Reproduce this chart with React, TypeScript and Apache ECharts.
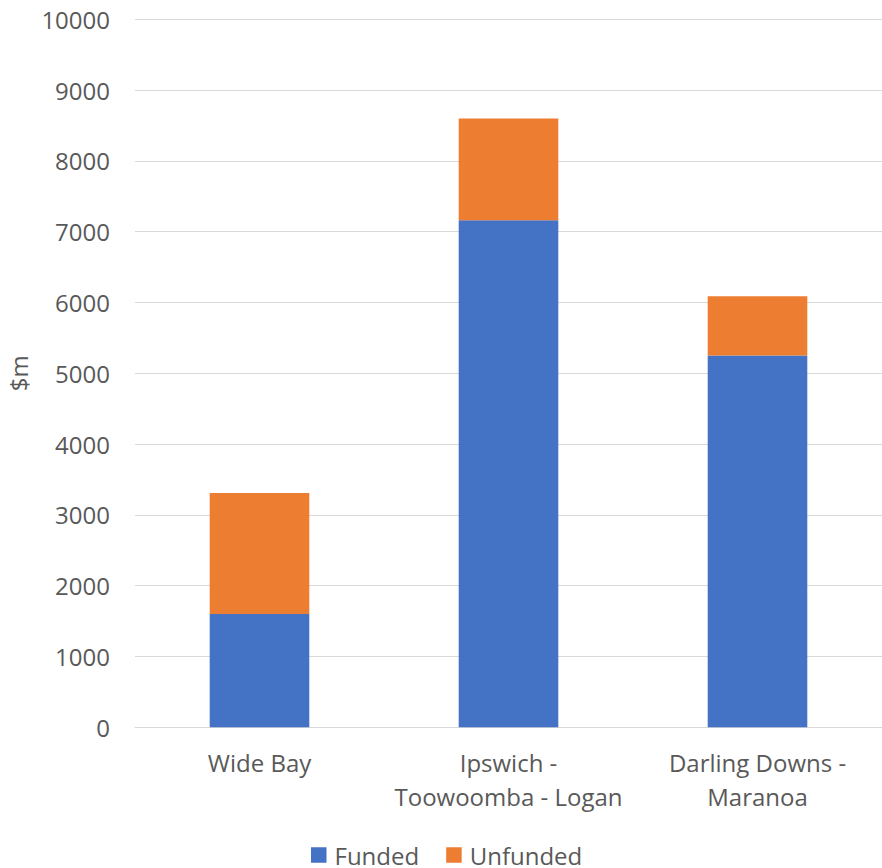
import React, { useEffect, useRef } from "react";
import * as echarts from "echarts";

const categories = ["Wide Bay", "Ipswich -\nToowoomba - Logan", "Darling Downs -\nMaranoa"];
const funded = [1600, 7160, 5250];
const unfunded = [1710, 1440, 840];
const seriesNames = ["Funded", "Unfunded"];

const FONT = "'Open Sans', sans-serif";
const TEXT = "#595959";

export default function App() {
  const ref = useRef<HTMLDivElement>(null);
  useEffect(() => {
    const chart = echarts.init(ref.current!, null, { renderer: "svg" });
    chart.setOption({
      animation: false,
      textStyle: { fontFamily: FONT, color: TEXT },
      grid: {
        left: 135,
        right: 0,
        top: 19.3,
        bottom: 140.7,
        containLabel: false,
        outerBoundsMode: "none",
      },
      legend: {
        left: 311,
        top: 842,
        padding: 0,
        itemWidth: 15.5,
        itemHeight: 15.5,
        itemGap: 27,
        icon: "rect",
        textStyle: { fontFamily: FONT, fontSize: 24, lineHeight: 26, color: TEXT, padding: [0, 0, 0, 3] },
        data: seriesNames,
      },
      xAxis: {
        type: "category",
        data: categories,
        axisLine: { lineStyle: { color: "#d9d9d9", width: 1 } },
        axisTick: { show: false },
        axisLabel: { fontFamily: FONT, fontSize: 24, color: TEXT, lineHeight: 33.3, margin: 19, interval: 0 },
      },
      yAxis: {
        type: "value",
        min: 0,
        max: 10000,
        interval: 1000,
        name: "$m",
        nameLocation: "middle",
        nameRotate: 90,
        nameGap: 104,
        nameTextStyle: { fontFamily: FONT, fontSize: 24, color: TEXT },
        axisLine: { show: false },
        axisTick: { show: false },
        axisLabel: {
          fontFamily: FONT,
          fontSize: 24,
          color: TEXT,
          margin: 25,
          formatter: (v: number) => String(v),
        },
        splitLine: { lineStyle: { color: "#d9d9d9", width: 1 } },
      },
      series: [
        {
          name: seriesNames[0],
          type: "bar",
          stack: "total",
          data: funded,
          barCategoryGap: "60%",
          itemStyle: { color: "#4472C4" },
        },
        {
          name: seriesNames[1],
          type: "bar",
          stack: "total",
          data: unfunded,
          barCategoryGap: "60%",
          itemStyle: { color: "#ED7D31" },
        },
      ],
    });
    return () => chart.dispose();
  }, []);
  return <div ref={ref} style={{ position: "absolute", left: 0, top: 0, width: 882, height: 868 }} />;
}
